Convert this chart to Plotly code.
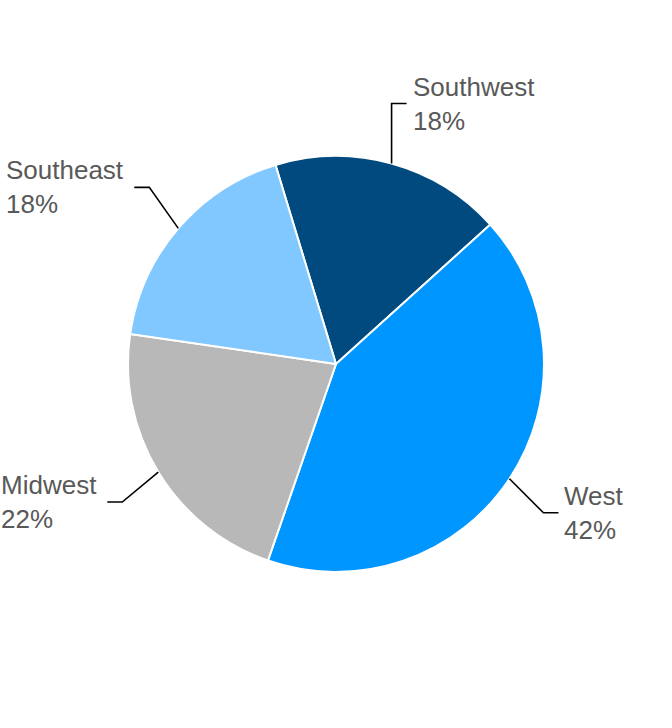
import math
import plotly.graph_objects as go

# ---- data ----
regions = ["Southwest", "West", "Midwest", "Southeast"]
shares = [18, 42, 22, 18]
colors = ["#004a80", "#0096ff", "#b8b8b8", "#80c8ff"]

# ---- style / layout parameters ----
W, H = 672, 728
CX, CY, R = 336, 364, 208
ROTATION = -16.9
# elbow offsets (px) from the slice edge midpoint, and side of the label
elbow_offsets = {"Southwest": (0, -60), "West": (34, 34), "Midwest": (-36, 30), "Southeast": (-29, -41)}
label_side = {"Southwest": 1, "West": 1, "Midwest": -1, "Southeast": -1}
text_gap = {1: 4, -1: 8}
HSEG = 15
FONT = dict(family="Liberation Sans, Arial, sans-serif", size=26, color="#595959")

ml, mr, mt, mb = CX - R, W - (CX + R), CY - R, H - (CY + R)


def to_paper(px, py):
    return (px - ml) / (2 * R), ((H - mb) - py) / (2 * R)


fig = go.Figure(go.Pie(
    labels=regions, values=shares, sort=False, direction="clockwise",
    rotation=ROTATION, textinfo="none", hoverinfo="label+percent",
    marker=dict(colors=colors, line=dict(color="white", width=2)),
    showlegend=False,
))

total = sum(shares)
angle = ROTATION
shapes, annotations = [], []
for name, v in zip(regions, shares):
    span = 360 * v / total
    mid = math.radians(angle + span / 2)
    angle += span
    ex, ey = CX + R * math.sin(mid), CY - R * math.cos(mid)
    dx, dy = elbow_offsets[name]
    bx, by = ex + dx, ey + dy
    side = label_side[name]
    tx = bx + side * HSEG
    p0, p1, p2 = to_paper(ex, ey), to_paper(bx, by), to_paper(tx, by)
    shapes.append(dict(type="path", xref="paper", yref="paper",
                       path=f"M {p0[0]} {p0[1]} L {p1[0]} {p1[1]} L {p2[0]} {p2[1]}",
                       line=dict(color="black", width=1.6)))
    ax, ay = to_paper(tx + side * text_gap[side], by)
    pct = round(100 * v / total)
    annotations.append(dict(
        x=ax, y=ay, xref="paper", yref="paper", showarrow=False,
        text=f"{name}<br>{pct}%", align="left",
        xanchor="left" if side > 0 else "right", yanchor="middle",
        font=FONT,
    ))

fig.update_layout(
    width=W, height=H, autosize=False,
    margin=dict(l=ml, r=mr, t=mt, b=mb, pad=0),
    paper_bgcolor="white", plot_bgcolor="white",
    shapes=shapes, annotations=annotations,
)

fig.write_html("out.html", config={"displayModeBar": False},
               post_script="document.body.style.margin='0';")
